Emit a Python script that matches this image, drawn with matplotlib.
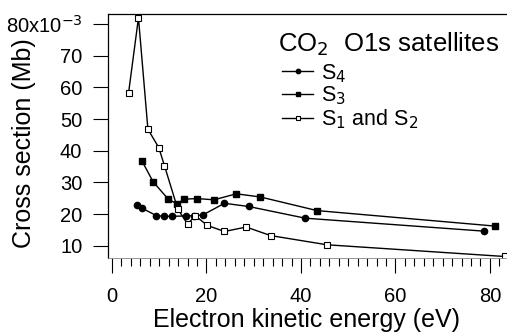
import matplotlib
matplotlib.use("Agg")
import matplotlib.pyplot as plt
from matplotlib.ticker import MultipleLocator, FixedLocator, FixedFormatter

plt.rcParams['font.family'] = ['Liberation Sans', 'DejaVu Sans']

# S4 (filled circles)
s4_x = [5.3, 6.3, 9.4, 11.1, 12.7, 15.7, 17.4, 19.2, 23.8, 28.9, 40.9, 78.8]
s4_y = [22.9, 21.9, 19.5, 19.3, 19.3, 19.4, 19.5, 19.7, 23.4, 22.4, 18.7, 14.6]

# S3 (filled squares)
s3_x = [6.3, 8.7, 11.8, 13.7, 15.3, 18.0, 21.6, 26.3, 31.4, 43.4, 81.1]
s3_y = [36.9, 30.2, 24.9, 23.2, 24.7, 24.9, 24.5, 26.4, 25.4, 21.1, 16.2]

# S1 and S2 (open squares)
s12_x = [3.5, 5.6, 7.6, 9.9, 11.1, 13.9, 16.0, 17.6, 20.2, 23.8, 28.4, 33.6, 45.5, 83.1]
s12_y = [58.2, 82.0, 46.8, 41.0, 35.3, 21.7, 16.8, 19.5, 16.4, 14.5, 15.9, 13.2, 10.3, 6.6]

y_ticks = [10, 20, 30, 40, 50, 60, 70, 80]
y_labels = ['10', '20', '30', '40', '50', '60', '70', '80x10$^{-3}$']
x_ticks = [0, 20, 40, 60, 80]

W, H = 507, 333
fig = plt.figure(figsize=(W / 100, H / 100), dpi=100)
ax = fig.add_axes([0.213, 0.225, 0.785, 0.733])

ax.plot(s4_x, s4_y, '-', color='black', lw=1.0, marker='o', ms=4.5,
        mfc='black', mec='black', label='S$_4$')
ax.plot(s3_x, s3_y, '-', color='black', lw=1.0, marker='s', ms=5,
        mfc='black', mec='black', label='S$_3$')
ax.plot(s12_x, s12_y, '-', color='black', lw=1.0, marker='s', ms=5,
        mfc='white', mec='black', mew=0.8, label='S$_1$ and S$_2$')

ax.set_xlim(-0.85, 83.4)
ax.set_ylim(6.1, 83.2)

ax.yaxis.set_major_locator(FixedLocator(y_ticks))
ax.yaxis.set_major_formatter(FixedFormatter(y_labels))
ax.xaxis.set_major_locator(FixedLocator(x_ticks))
ax.xaxis.set_minor_locator(MultipleLocator(2))

ax.tick_params(axis='y', which='major', direction='out', length=10.5, width=0.8,
               labelsize=14.5, pad=8)
ax.tick_params(axis='x', which='major', direction='out', length=11, width=0.8,
               labelsize=14.5, pad=9.5)
ax.tick_params(axis='x', which='minor', direction='out', length=6, width=0.8)

ax.spines['right'].set_visible(False)
ax.spines['top'].set_linewidth(0.9)
ax.spines['left'].set_linewidth(0.9)
ax.spines['bottom'].set_linewidth(0.6)
ax.spines['bottom'].set_color('#888888')

ax.set_xlabel('Electron kinetic energy (eV)', fontsize=18)
ax.xaxis.set_label_coords(0.5, -0.203)
ax.set_ylabel('Cross section (Mb)', fontsize=18)
ax.yaxis.set_label_coords(-0.18, 0.47)

fig.text(278 / W, 1 - 44 / H, 'CO$_2$  O1s satellites', fontsize=18.5,
         ha='left', va='center')

leg = ax.legend(loc='upper left', bbox_to_anchor=(282 / W, 1 - 62 / H),
                bbox_transform=fig.transFigure, frameon=False,
                fontsize=15.5, handlelength=1.45, handletextpad=0.35,
                labelspacing=0.0, borderaxespad=0.0, markerscale=0.7,
                borderpad=0.0)

fig.savefig('out.png', dpi=100)
